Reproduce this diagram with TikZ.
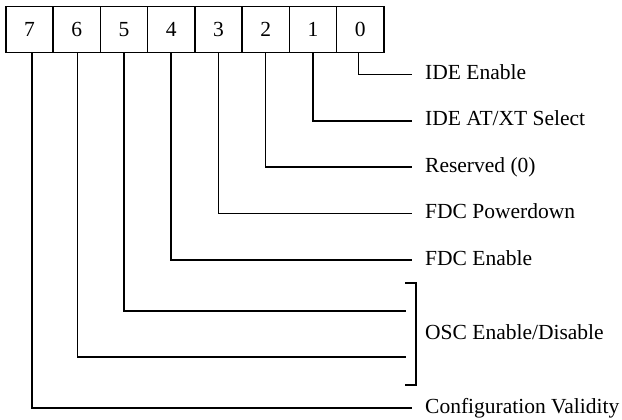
\documentclass[tikz,border=0pt]{standalone}
\usepackage{fontspec}
\setmainfont{Liberation Serif}
\begin{document}
\begin{tikzpicture}[x=1pt,y=-1pt,
  every node/.style={font=\fontsize{21.5}{25}\selectfont},
  cell/.style={draw,line width=1.5pt,minimum width=47.25pt,minimum height=46pt,inner sep=0pt,anchor=north west},
  wire/.style={line width=1.5pt},
  lbl/.style={anchor=base west,inner sep=0pt}]
\useasboundingbox (0,0) rectangle (622,420);
% register cells, bit 7 on the left
\foreach \b [count=\i from 0] in {7,6,5,4,3,2,1,0}
  \node[cell] (c\b) at (5+47.25*\i,5.7) {\b};
% line ends and labels
\foreach \b/\y/\xe in {0/74.5/412,1/121/412,2/167/412,3/213.5/412,4/260/412,5/311/406,6/357/406,7/408/412}
  \coordinate (e\b) at (\xe,\y);
\node[lbl] (l0) at (425,79.5) {IDE Enable};
\node[lbl] (l1) at (425,126) {IDE AT/XT Select};
\node[lbl] (l2) at (425,172) {Reserved (0)};
\node[lbl] (l3) at (425,218.5) {FDC Powerdown};
\node[lbl] (l4) at (425,265) {FDC Enable};
\node[lbl] (l56) at (425,339) {OSC Enable/Disable};
\node[lbl] (l7) at (425,413) {Configuration Validity};
% connectors
\draw[wire] ([xshift=-1.4pt]c0.south) |- (e0);
\draw[wire] (c1.south) |- (e1);
\draw[wire] (c2.south) |- (e2);
\draw[wire] (c3.south) |- (e3);
\draw[wire] (c4.south) |- (e4);
\draw[wire] (c5.south) |- (e5);
\draw[wire] ([xshift=1.1pt]c6.south) |- (e6);
\draw[wire] ([xshift=2.4pt]c7.south) |- (e7);
% bracket grouping bits 6 and 5
\coordinate (bt) at (405,283);
\coordinate (bb) at (405,385);
\draw[wire] (bt) -- ++(11,0) |- (bb);
\end{tikzpicture}
\end{document}
